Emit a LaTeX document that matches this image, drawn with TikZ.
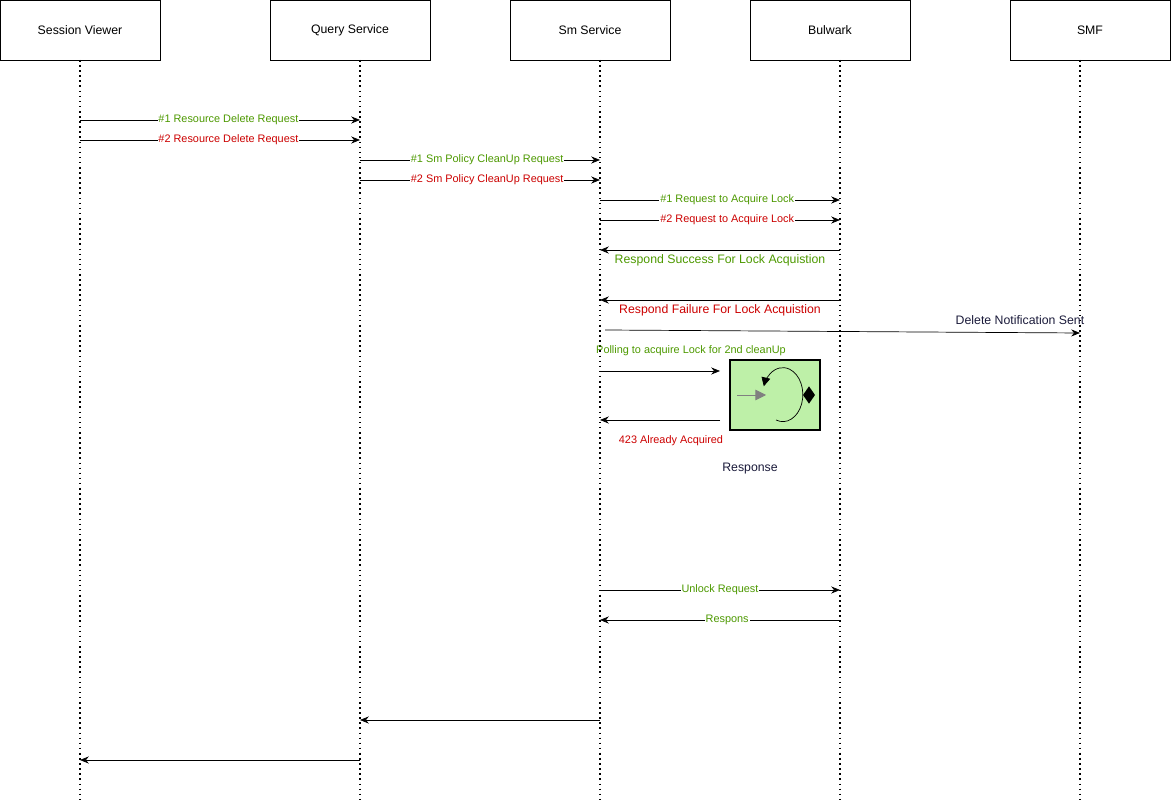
\documentclass[tikz,border=0pt]{standalone}
\usepackage{fontspec}
\setmainfont{Liberation Sans}
\usetikzlibrary{arrows.meta,shapes.geometric}

\definecolor{okgreen}{HTML}{4D9900}
\definecolor{badred}{HTML}{CC0000}
\definecolor{boxgreen}{HTML}{BEF0A8}
\definecolor{darkink}{HTML}{1A1A3A}

\tikzset{
  actor/.style={draw, minimum width=3.2cm, minimum height=1.2cm, font=\fontsize{7pt}{8pt}\selectfont},
  life/.style={dotted, line width=0.9pt},
  msg/.style={-{Stealth[length=5pt,width=4pt]}},
  onlab/.style={fill=white, inner sep=0.5pt, font=\fontsize{6.2pt}{7pt}\selectfont},
  offlab/.style={inner sep=0.5pt, font=\fontsize{7pt}{8pt}\selectfont}
}

\begin{document}
\begin{tikzpicture}[x=0.02cm, y=-0.02cm]

  \useasboundingbox (0,0) rectangle (1171,803);

  % actors
  \node[actor] (sv) at (80,30) {Session Viewer};
  \node[actor] (qs) at (350,30) {Query Service};
  \node[actor] (sm) at (590,30) {Sm Service};
  \node[actor] (bw) at (830,30) {Bulwark};
  \node[actor] (smf) at (1090,30) {SMF};

  % lifelines
  \coordinate (svL) at (80,60);  \coordinate (svE) at (80,803);
  \coordinate (qsL) at (360,60); \coordinate (qsE) at (360,803);
  \coordinate (smL) at (600,60); \coordinate (smE) at (600,803);
  \coordinate (bwL) at (840,60); \coordinate (bwE) at (840,803);
  \coordinate (smfL) at (1080,60); \coordinate (smfE) at (1080,803);
  \draw[life] (svL) -- (svE);
  \draw[life] (qsL) -- (qsE);
  \draw[life] (smL) -- (smE);
  \draw[life] (bwL) -- (bwE);
  \draw[life] (smfL) -- (smfE);

  % requests
  \draw[msg] (svL |- 0,120) -- node[onlab, text=okgreen, pos=0.53] {\#1 Resource Delete Request} (qsL |- 0,120);
  \draw[msg] (svL |- 0,140) -- node[onlab, text=badred, pos=0.53] {\#2 Resource Delete Request} (qsL |- 0,140);
  \draw[msg] (qsL |- 0,160) -- node[onlab, text=okgreen, pos=0.53] {\#1 Sm Policy CleanUp Request} (smL |- 0,160);
  \draw[msg] (qsL |- 0,180) -- node[onlab, text=badred, pos=0.53] {\#2 Sm Policy CleanUp Request} (smL |- 0,180);
  \draw[msg] (smL |- 0,200) -- node[onlab, text=okgreen, pos=0.53] {\#1 Request to Acquire Lock} (bwL |- 0,200);
  \draw[msg] (smL |- 0,220) -- node[onlab, text=badred, pos=0.53] {\#2 Request to Acquire Lock} (bwL |- 0,220);

  % lock responses
  \draw[msg] (bwL |- 0,250) -- (smL |- 0,250);
  \node[offlab, text=okgreen] (okmsg) at (720,260) {Respond Success For Lock Acquistion};
  \draw[msg] (bwL |- 0,300) -- (smL |- 0,300);
  \node[offlab, text=badred] (badmsg) at (720,310) {Respond Failure For Lock Acquistion};

  % notification
  \coordinate (nfA) at (605,330);
  \draw[msg] (nfA) -- (smfL |- 0,333);
  \node[offlab, text=darkink] (nfmsg) at (1020,320) {Delete Notification Sent};

  % polling
  \node[onlab, fill=none, text=okgreen] (pollmsg) at (691,351) {Polling to acquire Lock for 2nd cleanUp};
  \node[draw, line width=1.3pt, fill=boxgreen, minimum width=1.8cm, minimum height=1.4cm] (loop) at (775,395) {};
  \coordinate (pollB) at (720,371);
  \coordinate (pollR) at (720,420);
  \draw[msg] (smL |- 0,371) -- (pollB);
  \draw[msg] (pollR) -- (smL |- 0,420);
  \draw[gray, -{Triangle[length=6pt,width=6pt]}] (737,395) -- (766,395);
  \draw[-{Triangle[length=5pt,width=5pt]}] (776,420) arc[start angle=110, end angle=-162, x radius=20, y radius=27];
  \node[diamond, fill=black, inner sep=0pt, minimum width=7pt, minimum height=10pt] (dmd) at (809,395) {};
  \node[offlab, text=badred, font=\fontsize{6.2pt}{7pt}\selectfont] (busy) at (671,441) {423 Already Acquired};
  \node[offlab, text=darkink] (resp) at (750,469) {Response};

  % unlock
  \draw[msg] (smL |- 0,590) -- node[onlab, text=okgreen] {Unlock Request} (bwL |- 0,590);
  \draw[msg] (bwL |- 0,620) -- node[onlab, text=okgreen, pos=0.47] {Respons} (smL |- 0,620);

  % replies
  \draw[msg] (smL |- 0,720) -- (qsL |- 0,720);
  \draw[msg] (qsL |- 0,760) -- (svL |- 0,760);

\end{tikzpicture}
\end{document}
